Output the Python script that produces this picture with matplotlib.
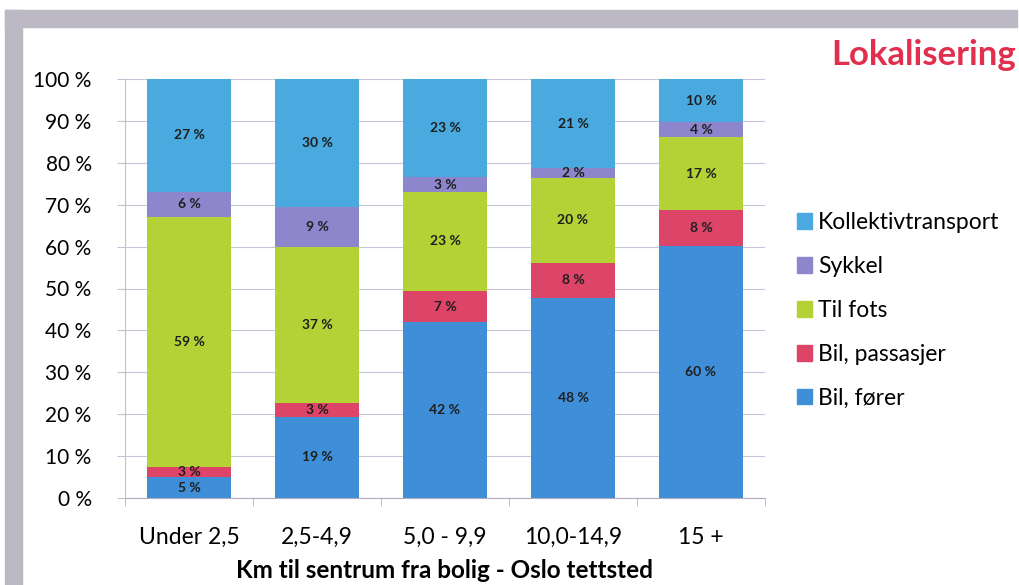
import matplotlib.pyplot as plt
from matplotlib.patches import Rectangle

plt.rcParams['font.family'] = ['Lato', 'DejaVu Sans']

categories = ['Under 2,5', '2,5-4,9', '5,0 - 9,9', '10,0-14,9', '15 +']
series = ['Bil, fører', 'Bil, passasjer', 'Til fots', 'Sykkel', 'Kollektivtransport']

# segment heights (percent)
bil_forer = [4.9, 19.4, 41.9, 47.7, 60.2]
bil_passasjer = [2.6, 3.2, 7.6, 8.5, 8.5]
til_fots = [59.6, 37.4, 23.6, 20.1, 17.4]
sykkel = [6.0, 9.5, 3.4, 2.4, 3.6]
kollektiv = [26.9, 30.5, 23.5, 21.3, 10.3]

# printed labels in the bars
lab_forer = [5, 19, 42, 48, 60]
lab_passasjer = [3, 3, 7, 8, 8]
lab_fots = [59, 37, 23, 20, 17]
lab_sykkel = [6, 9, 3, 2, 4]
lab_kollektiv = [27, 30, 23, 21, 10]

colors = ['#3f8fd8', '#dc4468', '#b4d236', '#8e86cc', '#4aa9de']

fig = plt.figure(figsize=(10.2, 5.85), dpi=100)
fig.patch.set_facecolor('white')

# grey frame from the scanned slide
fig.patches.append(Rectangle((5 / 1020, 1 - 27 / 585), 1012 / 1020, 17 / 585,
                             transform=fig.transFigure, color='#bcb8c4', zorder=0))
fig.patches.append(Rectangle((5 / 1020, 0), 17 / 1020, 1 - 10 / 585,
                             transform=fig.transFigure, color='#bcb8c4', zorder=0))

ax = fig.add_axes([125 / 1020, 87 / 585, 640 / 1020, 419 / 585])

values = [bil_forer, bil_passasjer, til_fots, sykkel, kollektiv]
labels = [lab_forer, lab_passasjer, lab_fots, lab_sykkel, lab_kollektiv]
x = list(range(len(categories)))
bottom = [0] * len(categories)
handles = []
for name, vals, labs, col in zip(series, values, labels, colors):
    bars = ax.bar(x, vals, 0.66, bottom=bottom, color=col, zorder=2)
    for b, v, l in zip(bars, vals, labs):
        ax.text(b.get_x() + b.get_width() / 2, b.get_y() + v / 2, f'{l} %',
                ha='center', va='center', fontsize=10, fontweight='bold',
                color='#1e1e1e', zorder=3)
    bottom = [a + b for a, b in zip(bottom, vals)]
    handles.append(Rectangle((0, 0), 1, 1, color=col))

ax.set_xlim(-0.5, 4.5)
ax.set_ylim(0, 100)
ax.set_yticks(range(0, 101, 10))
ax.set_yticklabels([f'{v} %' for v in range(0, 101, 10)], fontsize=15)
ax.set_xticks(x)
ax.set_xticklabels(categories, fontsize=16.5)
ax.set_xticks([i - 0.5 for i in range(6)], minor=True)
ax.tick_params(axis='x', which='major', length=0, pad=21)
ax.tick_params(axis='x', which='minor', length=6, color='#b0acc0')
ax.tick_params(axis='y', length=6, color='#c4c0d4', pad=18)
ax.set_xlabel('Km til sentrum fra bolig - Oslo tettsted', fontsize=17.5,
              fontweight='bold', labelpad=8)
ax.grid(axis='y', color='#c8c4d8', linewidth=0.8, zorder=0)
for s in ['top', 'right']:
    ax.spines[s].set_visible(False)
ax.spines['left'].set_color('#c4c0d4')
ax.spines['bottom'].set_color('#b0acc0')

leg = fig.legend(handles[::-1], series[::-1], loc='upper left',
                 bbox_to_anchor=(788 / 1020, 1 - 203 / 585), frameon=False,
                 fontsize=16.5, handlelength=0.65, handleheight=0.65,
                 handletextpad=0.25, labelspacing=1.0, borderaxespad=0)

fig.text(1016 / 1020, 1 - 55 / 585, 'Lokalisering', fontsize=25, fontweight='bold',
         color='#e0304e', ha='right', va='center')

fig.savefig('out.png', dpi=100)
